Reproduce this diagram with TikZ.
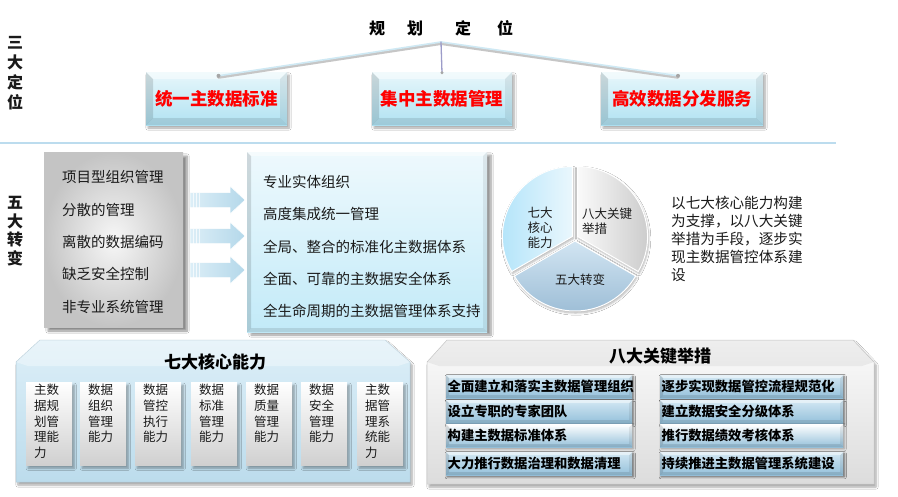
\documentclass[tikz,border=0pt]{standalone}
\usepackage{fontspec}
\setmainfont{Noto Sans CJK SC}
\usetikzlibrary{shadows.blur}
\definecolor{ink}{HTML}{1A1A1A}
\definecolor{topA}{HTML}{E8F7FB}
\definecolor{topB}{HTML}{B0E2F2}
\definecolor{lineblue}{HTML}{BCDCEE}
\definecolor{conn}{HTML}{CFE9F4}
\definecolor{grayA}{HTML}{F7F7F7}
\definecolor{grayB}{HTML}{C4C4C4}
\definecolor{cyanA}{HTML}{EEF9FD}
\definecolor{cyanB}{HTML}{C2EAF8}
\definecolor{arrA}{HTML}{DCEEF7}
\definecolor{arrB}{HTML}{B4D8EA}
\definecolor{panA}{HTML}{DDEFF8}
\definecolor{panB}{HTML}{BCDCEC}
\definecolor{pgA}{HTML}{FBFBFB}
\definecolor{pgB}{HTML}{DCDCDC}
\definecolor{barA}{HTML}{D2E7F3}
\definecolor{barB}{HTML}{94C0DA}
\definecolor{pieA1}{HTML}{B5E5FA}
\definecolor{pieA2}{HTML}{EAF7FD}
\definecolor{pieB1}{HTML}{FAFAFA}
\definecolor{pieB2}{HTML}{C6C6C6}
\definecolor{pieC1}{HTML}{D2E5F2}
\definecolor{pieC2}{HTML}{97B9D3}
\tikzset{
  bevel/.style={path picture={
    \coordinate (bsw) at (path picture bounding box.south west);
    \coordinate (bne) at (path picture bounding box.north east);
    \coordinate (bnw) at (path picture bounding box.north west);
    \coordinate (bse) at (path picture bounding box.south east);
    \fill[white,opacity=.45] (bnw) -- (bne) -- ([shift={(-#1,-#1)}]bne) -- ([shift={(#1,-#1)}]bnw) -- cycle;
    \fill[black,opacity=.13] (bnw) -- (bsw) -- ([shift={(#1,#1)}]bsw) -- ([shift={(#1,-#1)}]bnw) -- cycle;
    \fill[black,opacity=.07] (bne) -- (bse) -- ([shift={(-#1,#1)}]bse) -- ([shift={(-#1,-#1)}]bne) -- cycle;
    \fill[black,opacity=.10] (bsw) -- (bse) -- ([shift={(-#1,#1)}]bse) -- ([shift={(#1,#1)}]bsw) -- cycle;
  }},
  bevel/.default=6pt,
  sh/.style={blur shadow={shadow xshift=2pt, shadow yshift=-3pt, shadow blur steps=6, shadow opacity=35}},
  topbox/.style={minimum height=53pt, inner sep=0pt, top color=topA, bottom color=topB, bevel=7pt, sh,
    text=red, font=\fontsize{17.5}{20}\selectfont\bfseries},
  vert/.style={align=center, inner sep=0pt, text=ink},
  ltxt/.style={anchor=west, inner sep=0pt, text=ink, font=\fontsize{14.5}{17}\selectfont},
  arrowblk/.style={left color=arrA, right color=arrB, draw=white, line width=.5pt},
  smallbox/.style={minimum width=46pt, minimum height=83pt, inner sep=0pt, top color=white, bottom color=grayB!80, sh},
  smalltxt/.style={anchor=north west, inner sep=0pt, align=left, text=ink, font=\fontsize{12.5}{15.7}\selectfont},
  bar/.style={minimum height=23pt, inner xsep=1.5pt, inner ysep=0pt, top color=barA, bottom color=barB, bevel=3pt,
    align=left, text=black, font=\fontsize{13.3}{15}\selectfont\bfseries,
    blur shadow={shadow xshift=1pt, shadow yshift=-1.5pt, shadow blur steps=4, shadow opacity=35}},
  litebar/.style={top color=white, bottom color=barB},
  bartitle/.style={inner sep=0pt, text=black, font=\fontsize{17}{20}\selectfont\bfseries},
  pietxt/.style={inner sep=0pt, text=ink, font=\fontsize{12.5}{15}\selectfont},
}
\begin{document}
\begin{tikzpicture}[x=1pt,y=-1pt]
\useasboundingbox[fill=white] (0,0) rectangle (898,496);

% ---------- 三大定位 ----------
\node[vert, font=\fontsize{16}{20}\selectfont\bfseries] (sd) at (15,73) {三\\大\\定\\位};
\node[inner sep=0pt, text=black, font=\fontsize{16}{19}\selectfont\bfseries] (gh) at (441,28)
  {规\hspace{22pt}划\hspace{32pt}定\hspace{26pt}位};
\coordinate (j) at (441,42);

\node[topbox, minimum width=141pt] (b1) at (216.5,98.5) {统一主数据标准};
\node[topbox, minimum width=140pt] (b2) at (442,98.5) {集中主数据管理};
\node[topbox, minimum width=162pt] (b3) at (682,98.5) {高效数据分发服务};

% connectors
\begin{scope}[line cap=round]
\draw[gray!45, line width=3pt, transform canvas={yshift=-1.5pt}] (j) -- ([shift={(2pt,-4pt)}]b1.north);
\draw[gray!45, line width=3pt, transform canvas={yshift=-1.5pt}] (j) -- ([shift={(-4pt,-4pt)}]b3.north);
\draw[conn, line width=1.6pt] (j) -- ([shift={(2pt,-4pt)}]b1.north);
\draw[conn, line width=1.6pt] (j) -- ([shift={(-4pt,-4pt)}]b3.north);
\draw[gray!70!blue!60, line width=1.3pt] (j) -- ([yshift=-1pt]b2.north);
\fill[gray!70] ([shift={(2pt,-4pt)}]b1.north) circle (2pt);
\fill[gray!70] ([shift={(-4pt,-4pt)}]b3.north) circle (2pt);
\fill[gray!70] ([yshift=-1pt]b2.north) circle (1.6pt);
\end{scope}

% separator line
\draw[lineblue, line width=2pt] (0,143) -- (836,143);

% ---------- 五大转变 ----------
\node[vert, font=\fontsize{16}{18.5}\selectfont\bfseries] (wd) at (15,231) {五\\大\\转\\变};

\node[minimum width=139pt, minimum height=175pt, inner sep=0pt, shading=radial, inner color=grayA, outer color=grayB,
  blur shadow={shadow xshift=4pt, shadow yshift=-4pt, shadow blur steps=8, shadow opacity=45}] (g) at (113.5,239.5) {};
\node[minimum width=240pt, minimum height=180pt, inner sep=0pt, top color=cyanA, bottom color=cyanB, bevel=4pt,
  blur shadow={shadow xshift=4pt, shadow yshift=-3pt, shadow blur steps=8, shadow opacity=40}] (bl) at (367,242) {};

\node[ltxt] (g1) at (62,177) {项目型组织管理};
\node[ltxt] (g2) at (62,210) {分散的管理};
\node[ltxt] (g3) at (62,242) {离散的数据编码};
\node[ltxt] (g4) at (62,274) {缺乏安全控制};
\node[ltxt] (g5) at (62,307) {非专业系统管理};

\node[ltxt] (t1) at (263,182) {专业实体组织};
\node[ltxt] (t2) at (263,214) {高度集成统一管理};
\node[ltxt] (t3) at (263,247) {全局、整合的标准化主数据体系};
\node[ltxt] (t4) at (263,279) {全面、可靠的主数据安全体系};
\node[ltxt] (t5) at (263,311) {全生命周期的主数据管理体系支持};

% block arrows
\foreach \y in {200,236,270}{
  \path[arrowblk] (190,\y-7.5) -- (230,\y-7.5) -- (230,\y-14) -- (245,\y) -- (230,\y+14) -- (230,\y+7.5) -- (190,\y+7.5) -- cycle;
  \foreach \k in {193,196,199}{ \draw[white, line width=.6pt, opacity=.7] (\k,\y-7.5) -- (\k,\y+7.5); }
}

% ---------- pie ----------
\begin{scope}[shift={(575,238)}, y=1pt]
  \path[left color=pieA1, right color=pieA2, draw=white, line width=1pt,
    blur shadow={shadow xshift=1pt, shadow yshift=-2pt, shadow blur steps=5, shadow opacity=30}]
    (150:3) -- ++(90:70) arc[start angle=90, end angle=210, radius=70] -- cycle;
  \path[left color=pieB1, right color=pieB2, draw=white, line width=1pt,
    blur shadow={shadow xshift=1pt, shadow yshift=-2pt, shadow blur steps=5, shadow opacity=30}]
    (30:3) -- ++(-30:70) arc[start angle=-30, end angle=90, radius=70] -- cycle;
  \path[top color=pieC1, bottom color=pieC2, draw=white, line width=1pt,
    blur shadow={shadow xshift=1pt, shadow yshift=-2pt, shadow blur steps=5, shadow opacity=30}]
    (270:3) -- ++(210:70) arc[start angle=210, end angle=330, radius=70] -- cycle;
\end{scope}
\node[pietxt, align=center] (p1) at (540,228) {七大\\核心\\能力};
\node[pietxt, align=left, anchor=west] (p2) at (582,221) {八大关键\\举措};
\node[pietxt] (p3) at (580,280) {五大转变};

\node[anchor=north west, inner sep=0pt, align=left, text=ink, font=\fontsize{14.6}{18}\selectfont] (desc) at (671,196)
  {以七大核心能力构建\\为支撑，以八大关键\\举措为手段，逐步实\\现主数据管控体系建\\设};

% ---------- 七大核心能力 panel ----------
\path[top color=panA, bottom color=panB, draw=panB!80!gray, line width=.5pt,
  blur shadow={shadow xshift=2pt, shadow yshift=-3pt, shadow blur steps=6, shadow opacity=35}]
  (16,482) -- (16,362) -- (40,340) -- (385,340) -- (410,362) -- (410,482) -- cycle;
\fill[white,opacity=.35] (16,362) -- (40,340) -- (385,340) -- (410,362) -- (398,366) -- (28,366) -- cycle;
\node[bartitle] (seven) at (215,362) {七大核心能力};

\foreach \i/\x/\t in {1/26/{主数\\据规\\划管\\理能\\力}, 2/80/{数据\\组织\\管理\\能力}, 3/135/{数据\\管控\\执行\\能力},
  4/191/{数据\\标准\\管理\\能力}, 5/246/{数据\\质量\\管理\\能力}, 6/301/{数据\\安全\\管理\\能力}, 7/357/{主数\\据管\\理系\\统能\\力}}{
  \node[smallbox, anchor=north west] (c\i) at (\x,382) {};
  \node[smalltxt] (ct\i) at ([shift={(8pt,-2pt)}]c\i.north west) {\t};
}

% ---------- 八大关键举措 panel ----------
\path[top color=pgA, bottom color=pgB, draw=gray!40, line width=.5pt,
  blur shadow={shadow xshift=2pt, shadow yshift=-3pt, shadow blur steps=6, shadow opacity=35}]
  (427,484) -- (427,362) -- (447,340) -- (853,340) -- (874,362) -- (874,484) -- cycle;
\fill[black,opacity=.05] (427,362) -- (447,340) -- (853,340) -- (874,362) -- (862,366) -- (439,366) -- cycle;
\node[bartitle] (eight) at (660,356) {八大关键举措};

\foreach \n/\x/\y/\w/\s/\t in {l1/446/375/186/bar/全面建立和落实主数据管理组织, l2/446/400/186/bar/设立专职的专家团队,
  l3/446/424/186/litebar/构建主数据标准体系, l4/446/452/186/bar/大力推行数据治理和数据清理,
  r1/660/375/183/bar/逐步实现数据管控流程规范化, r2/660/400/183/bar/建立数据安全分级体系,
  r3/660/424/183/litebar/推行数据绩效考核体系, r4/660/452/183/bar/持续推进主数据管理系统建设}{
  \node[bar, \s, anchor=north west, minimum width=\w pt, text width=\w pt - 3pt] (\n) at (\x,\y) {\t};
}
\end{tikzpicture}
\end{document}
